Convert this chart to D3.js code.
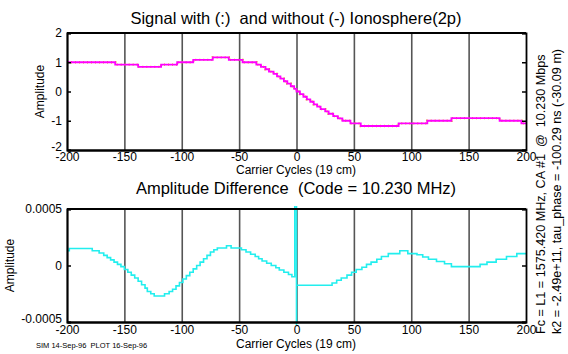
<!DOCTYPE html>
<html>
<head>
<meta charset="utf-8">
<script src="https://cdn.jsdelivr.net/npm/d3@7"></script>
<style>
  html, body { margin: 0; padding: 0; background: #fff; }
  svg text { font-family: "Liberation Sans", Arial, sans-serif; fill: #000; }
</style>
</head>
<body>
<svg id="chart" width="568" height="354"></svg>
<script>
// ---------- data ----------
const xTicks = [-200, -150, -100, -50, 0, 50, 100, 150, 200];
const gridTicks = [-150, -100, -50, 0, 50, 100, 150];
const topYTicks = [-2, -1, 0, 1, 2];
const botYTicks = [-0.0005, 0, 0.0005];
const botYTickLabels = ["-0.0005", "0", "0.0005"];

// Signal (stepped), carrier cycle -> amplitude
const signalX = [-200, -158, -138, -118, -104, -90, -73, -59, -47, -39, -35, -31, -27, -24, -20, -17, -14, -11, -8, -5, -2, 0,
                 3, 6, 9, 12, 15, 18, 21, 25, 28, 32, 36, 40, 47, 56, 89, 114, 135, 177, 196, 200];
const signalY = [1.0, 0.92, 0.84, 0.92, 1.0, 1.08, 1.17, 1.08, 1.0, 1.0, 0.92, 0.84, 0.76, 0.68, 0.6, 0.52, 0.44, 0.35, 0.27, 0.18, 0.09, 0.0,
                 -0.09, -0.18, -0.27, -0.35, -0.44, -0.52, -0.6, -0.68, -0.76, -0.84, -0.92, -1.0, -1.09, -1.18, -1.09, -1.0, -0.91, -1.0, -1.09, -1.09];

// Amplitude difference (stepped), units of 1e-4
const diffX = [-200, -198, -178, -172, -168, -165, -162, -159, -156, -153, -150, -147, -144, -141, -138, -135, -132, -130, -127, -124,
               -115, -111, -108, -105, -102, -99, -96, -93, -90, -87, -84, -81, -78, -75, -72, -69, -61, -57, -48, -44, -40, -36,
               -33, -30, -26, -22, -18, -15, -11, -7, -4, -1.5, 0, 0,
               31, 35, 39, 44, 48, 52, 57, 61, 65, 70, 74, 80, 90, 97, 105, 110, 115, 122, 129, 135, 160, 166, 174, 183, 192, 200];
const diffY = [1.3, 1.5, 1.3, 1.1, 0.9, 0.7, 0.5, 0.3, 0.1, -0.1, -0.35, -0.6, -0.85, -1.1, -1.4, -1.7, -2.0, -2.3, -2.5, -2.7,
               -2.5, -2.3, -2.1, -1.8, -1.5, -1.2, -0.9, -0.6, -0.3, 0.0, 0.3, 0.6, 0.9, 1.2, 1.4, 1.55, 1.75, 1.55, 1.4, 1.2, 1.0, 0.8,
               0.6, 0.4, 0.2, 0.0, -0.2, -0.4, -0.6, -0.8, -1.0, 9, -9, -1.75,
               -1.55, -1.3, -1.1, -0.85, -0.6, -0.35, -0.15, 0.1, 0.3, 0.55, 0.8, 1.05, 1.3, 1.05, 0.95, 0.75, 0.55, 0.35, 0.15, -0.1, 0.1, 0.3, 0.55, 0.8, 1.05, 1.05];

const titleTop = "Signal with (:)  and without (-) Ionosphere(2p)";
const titleBot = "Amplitude Difference  (Code = 10.230 MHz)";
const xLabel = "Carrier Cycles (19 cm)";
const yLabel = "Amplitude";
const sideText1 = "Fc = L1 = 1575.420 MHz, CA #1  @  10.230 Mbps";
const sideText2 = "k2 = -2.49e+11, tau_phase = -100.29 ns (-30.09 m)";
const footText = "SIM 14-Sep-96  PLOT 16-Sep-96";

// ---------- drawing ----------
const svg = d3.select("#chart");
const X0 = 67, X1 = 526;
const x = d3.scaleLinear().domain([-200, 200]).range([X0, X1]);
const fmt = d => String(d);

function panel(cfg) {
  const y = d3.scaleLinear().domain(cfg.domain).range([cfg.bottom, cfg.top]);
  const g = svg.append("g");
  const clipId = "clip" + cfg.id;
  svg.append("clipPath").attr("id", clipId).append("rect")
    .attr("x", X0).attr("y", cfg.top - 3).attr("width", X1 - X0).attr("height", cfg.bottom - cfg.top + 6);

  // grid lines (vertical)
  g.append("g").attr("transform", `translate(0,${cfg.bottom})`)
    .call(d3.axisBottom(x).tickValues(gridTicks).tickSize(-(cfg.bottom - cfg.top)).tickFormat(""))
    .call(a => a.select(".domain").remove())
    .call(a => a.selectAll("line").attr("stroke", "#555").attr("stroke-width", 1.6));

  // data line(s)
  const pts = cfg.xs.map((v, i) => [v, cfg.ys[i] * cfg.scale]);
  const line = d3.line().x(d => x(d[0])).y(d => y(d[1])).curve(d3.curveStepAfter);
  if (cfg.under) {
    g.append("path").datum(pts).attr("d", line).attr("fill", "none")
      .attr("stroke", cfg.under).attr("stroke-width", 2.3).attr("stroke-dasharray", "1,3");
  }
  g.append("path").datum(pts).attr("d", line).attr("fill", "none")
    .attr("clip-path", `url(#${clipId})`)
    .attr("stroke", cfg.color).attr("stroke-width", cfg.width);

  // frame: top
  g.append("line").attr("x1", X0).attr("x2", X1).attr("y1", cfg.top).attr("y2", cfg.top)
    .attr("stroke", "#000").attr("stroke-width", 1.8);

  // left axis
  const la = g.append("g").attr("transform", `translate(${X0},0)`)
    .call(d3.axisLeft(y).tickValues(cfg.yTicks).tickSize(-4).tickPadding(5)
      .tickFormat((d, i) => cfg.yLabels ? cfg.yLabels[i] : fmt(d)))
    .call(a => a.select(".domain").attr("stroke", "#000").attr("stroke-width", 2.2))
    .call(a => a.selectAll("line").attr("stroke", "#000").attr("stroke-width", 1.5))
    .call(a => a.selectAll("text").attr("font-size", 12).attr("font-family", "Liberation Sans, Arial, sans-serif"));
  // lowest label sits slightly above its tick
  la.selectAll(".tick").filter(d => d === cfg.yTicks[0]).select("text").attr("y", -3);

  // right axis
  g.append("g").attr("transform", `translate(${X1},0)`)
    .call(d3.axisRight(y).tickValues(cfg.yTicks).tickSize(-4).tickFormat(""))
    .call(a => a.select(".domain").attr("stroke", "#000").attr("stroke-width", 1.8))
    .call(a => a.selectAll("line").attr("stroke", "#000").attr("stroke-width", 1.5));

  // bottom axis
  g.append("g").attr("transform", `translate(0,${cfg.bottom})`)
    .call(d3.axisBottom(x).tickValues(xTicks).tickSize(0).tickPadding(cfg.xPad).tickFormat(fmt))
    .call(a => a.select(".domain").attr("stroke", "#000").attr("stroke-width", 2.4))
    .call(a => a.selectAll("text").attr("font-size", 12).attr("font-family", "Liberation Sans, Arial, sans-serif"));

  // titles / labels
  svg.append("text").attr("x", 296).attr("y", cfg.titleY).attr("text-anchor", "middle")
    .attr("font-size", 16.5).style("white-space", "pre").text(cfg.title);
  svg.append("text").attr("x", 296).attr("y", cfg.bottom + cfg.xLabelOff).attr("text-anchor", "middle")
    .attr("font-size", 12).text(xLabel);
  svg.append("text").attr("transform", `translate(${cfg.yLabelX},${(cfg.top + cfg.bottom) / 2}) rotate(-90)`)
    .attr("text-anchor", "middle").attr("font-size", 12).text(yLabel);
}

panel({ id: "a", domain: [-2, 2], top: 33, bottom: 150, xs: signalX, ys: signalY, scale: 1,
        color: "#ff00ff", width: 1.8, under: "#e8c000", yTicks: topYTicks, title: titleTop, titleY: 24,
        yLabelX: 44, xPad: 2, xLabelOff: 23.5 });
panel({ id: "b", domain: [-0.0005, 0.0005], top: 209, bottom: 322, xs: diffX, ys: diffY, scale: 1e-4,
        color: "#22eeee", width: 1.6, yTicks: botYTicks, yLabels: botYTickLabels, title: titleBot, titleY: 194,
        yLabelX: 14, xPad: 3, xLabelOff: 25.5 });

// side annotations
svg.append("text").attr("transform", "translate(545,334) rotate(-90)")
  .attr("font-size", 12.6).style("white-space", "pre").text(sideText1);
svg.append("text").attr("transform", "translate(561,334) rotate(-90)")
  .attr("font-size", 12.6).style("white-space", "pre").text(sideText2);

// footer
svg.append("text").attr("x", 36).attr("y", 348).attr("font-size", 7.5).style("white-space", "pre").text(footText);
</script>
</body>
</html>
